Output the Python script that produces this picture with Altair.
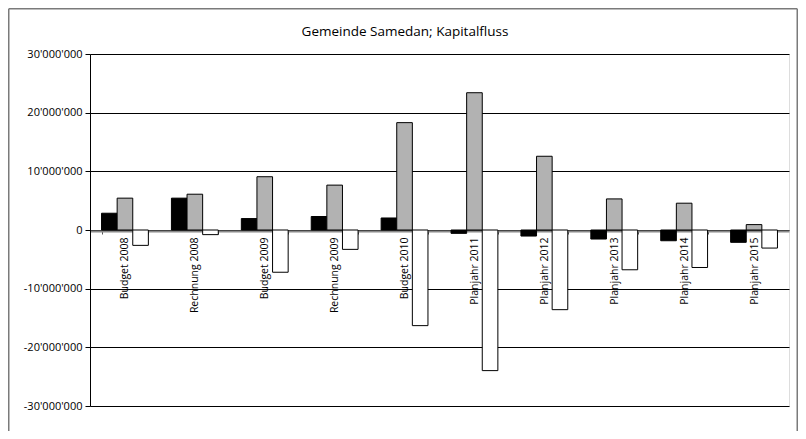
import altair as alt
import pandas as pd

categories = ["Budget 2008", "Rechnung 2008", "Budget 2009", "Rechnung 2009", "Budget 2010",
              "Planjahr 2011", "Planjahr 2012", "Planjahr 2013", "Planjahr 2014", "Planjahr 2015"]
series = ["Selbstfinanzierung", "Nettoinvestitionen", "Finanzierungsergebnis"]
selbstfinanzierung = [2860000, 5430000, 1950000, 2300000, 2050000, -570000, -1030000, -1540000, -1830000, -2100000]
nettoinvestitionen = [5430000, 6100000, 9080000, 7650000, 18300000, 23400000, 12570000, 5300000, 4570000, 920000]
finanzierungsergebnis = [-2620000, -790000, -7200000, -3300000, -16300000, -23970000, -13580000, -6780000, -6390000, -3080000]
colors = ["#000000", "#b2b2b2", "#ffffff"]
y_ticks = [-30000000, -20000000, -10000000, 0, 10000000, 20000000, 30000000]
title_text = "Gemeinde Samedan; Kapitalfluss"

rows = []
for i, c in enumerate(categories):
    for s, vals in zip(series, [selbstfinanzierung, nettoinvestitionen, finanzierungsergebnis]):
        rows.append({"Kategorie": c, "Serie": s, "Wert": vals[i]})
df = pd.DataFrame(rows)

FONT = "Open Sans"
W, H = 699, 352
PAD_L, PAD_T, PAD_R, PAD_B = 82, 46, 9, 25

label_expr = "replace(replace(format(datum.value, ','), regexp(',', 'g'), \"'\"), '\u2212', '-')"

bars = alt.Chart(df).mark_bar(stroke="#000000", strokeWidth=1).encode(
    x=alt.X("Kategorie:N", sort=categories, title=None,
            scale=alt.Scale(paddingInner=0.33, paddingOuter=0.165),
            axis=alt.Axis(orient="bottom", offset=-175, labelAngle=270, labelAlign="right",
                          labelBaseline="middle", labelFontSize=10.5, labelFont=FONT,
                          labelColor="#000000", labelPadding=3, tickSize=3,
                          tickColor="#555555", tickBand="extent", domainColor="#8a8a8a",
                          domainWidth=2, grid=False, zindex=0)),
    xOffset=alt.XOffset("Serie:N", sort=series,
                        scale=alt.Scale(paddingInner=0, paddingOuter=0)),
    y=alt.Y("Wert:Q", title=None,
            scale=alt.Scale(domain=[-30000000, 30000000], nice=False, zero=True),
            axis=alt.Axis(values=y_ticks, labelExpr=label_expr, labelFontSize=11,
                          labelFont=FONT, labelColor="#000000", labelPadding=3,
                          tickSize=5, tickColor="#000000", domainColor="#000000",
                          grid=True, gridColor="#000000", gridWidth=1, gridOpacity=1)),
    color=alt.Color("Serie:N", sort=series, legend=None,
                    scale=alt.Scale(domain=series, range=colors)),
)

one = pd.DataFrame({"a": [0]})
frame_color = "#7a7a7a"
frame_left = alt.Chart(one).mark_rule(color=frame_color, strokeWidth=1.5).encode(
    x=alt.value(-PAD_L + 0.75), y=alt.value(-PAD_T + 0.75), y2=alt.value(H + PAD_B))
frame_top = alt.Chart(one).mark_rule(color=frame_color, strokeWidth=1.5).encode(
    x=alt.value(-PAD_L + 0.75), x2=alt.value(W + PAD_R - 0.75), y=alt.value(-PAD_T + 0.75))
frame_right = alt.Chart(one).mark_rule(color=frame_color, strokeWidth=1.5).encode(
    x=alt.value(W + PAD_R - 0.75), y=alt.value(-PAD_T + 0.75), y2=alt.value(H + PAD_B))
title = alt.Chart(one).mark_text(text=title_text, font=FONT, fontSize=13.5, color="#000000",
                                 align="center", baseline="alphabetic").encode(
    x=alt.value(315), y=alt.value(-18))

chart = alt.layer(bars, frame_left, frame_top, frame_right, title).properties(
    width=W, height=H,
    autosize=alt.AutoSizeParams(type="none"),
    padding={"left": PAD_L, "top": PAD_T, "right": PAD_R, "bottom": PAD_B},
).configure_view(stroke="#000000", strokeWidth=1.5).configure(background="#ffffff")

chart.save("out.html", embed_options={"renderer": "svg", "actions": False})
